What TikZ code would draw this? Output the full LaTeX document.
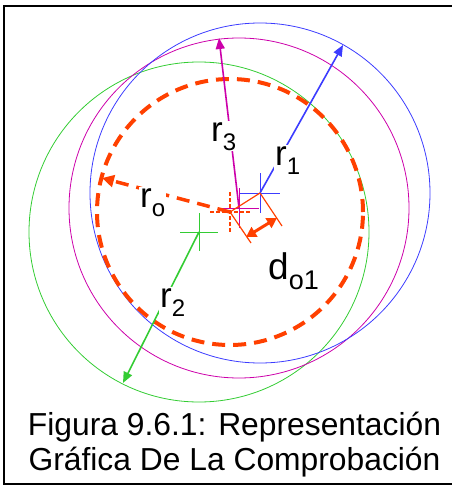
\documentclass[tikz,border=0pt]{standalone}
\usepackage{fontspec}
\setmainfont{Liberation Sans}
\usetikzlibrary{arrows.meta}
\definecolor{cblue}{RGB}{60,60,255}
\definecolor{cmag}{RGB}{204,0,170}
\definecolor{cgreen}{RGB}{51,204,51}
\definecolor{corange}{RGB}{255,64,0}
\newcommand\mysub[1]{\raisebox{-9pt}{\fontsize{24}{24}\selectfont #1}}
\newcommand\mysubd[1]{\raisebox{-10pt}{\fontsize{27}{27}\selectfont #1}}
\begin{document}
\begin{tikzpicture}[x=1pt,y=-1pt,
  circ/.style={line width=0.8pt},
  radarrow/.style={line width=1.6pt,-{Triangle[length=11pt,width=9pt]}},
  cross/.style={line width=1pt},
  lab/.style={fill=white,inner sep=1pt,anchor=base west,font=\fontsize{35}{35}\selectfont},
  captext/.style={anchor=base,font=\fontsize{31.8}{36}\selectfont}]
\useasboundingbox (0,0) rectangle (451,487);
% frame
\draw[line width=2pt] (452,6) -- (4,6) -- (4,484) -- (452,484);
% centres
\coordinate (cb) at (260,193);
\coordinate (cm) at (239,208);
\coordinate (cg) at (199,232);
\coordinate (co) at (230,212);
% circle tips
\coordinate (t1) at (343,45);
\coordinate (t3) at (219,38);
\coordinate (t2) at (123,383);
\coordinate (to) at (102,178);
% circles
\draw[circ,cgreen] (cg) circle[radius=170pt];
\draw[circ,cmag] (cm) circle[radius=170pt];
\draw[circ,cblue] (cb) circle[radius=170pt];
\draw[corange,line width=4pt,dash pattern=on 13pt off 8pt] (co) circle[radius=133pt];
% crosses
\draw[cross,cblue] (240,193) -- (280,193) (260,173) -- (260,213);
\draw[cross,cmag] (219,208) -- (259,208) (239,188) -- (239,228);
\draw[cross,cgreen] (180,232) -- (218,232) (199,213) -- (199,251);
\draw[corange,line width=1.2pt,dash pattern=on 4pt off 2pt] (210,212) -- (250,212) (230,192) -- (230,232);
% radii
\draw[radarrow,cblue] (cb) -- (t1);
\draw[radarrow,cmag] (cm) -- (t3);
\draw[radarrow,cgreen] (cg) -- (t2);
\draw[corange,line width=3.5pt,dash pattern=on 13pt off 8pt,-{Triangle[length=12pt,width=12pt]}] (co) -- (to);
% dimension d_o1
\coordinate (eb) at (282,226);
\coordinate (eo) at (251,243);
\coordinate (db) at (277,218);
\coordinate (do) at (246,237);
\draw[corange,line width=1.2pt] (co) -- (cb);
\draw[corange,line width=1.2pt] (cb) -- (eb);
\draw[corange,line width=1.2pt] (co) -- (eo);
\draw[corange,line width=3pt,{Triangle[length=10pt,width=11pt]}-{Triangle[length=10pt,width=11pt]}] (do) -- (db);
% labels
\node[lab] (l1) at (274,165) {r\mysub{1}};
\node[lab] (l3) at (210,141) {r\mysub{3}};
\node[lab] (l2) at (159,307) {r\mysub{2}};
\node[lab] (lo) at (139,207) {r\mysub{o}};
\node[lab,font=\fontsize{37}{37}\selectfont] (ld) at (267,279) {d\mysubd{o1}};
% caption
\node[captext] (cap1) at (234.5,435) {Figura 9.6.1: Representación};
\node[captext] (cap2) at (234.5,470) {Gráfica De La Comprobación};
\end{tikzpicture}
\end{document}
